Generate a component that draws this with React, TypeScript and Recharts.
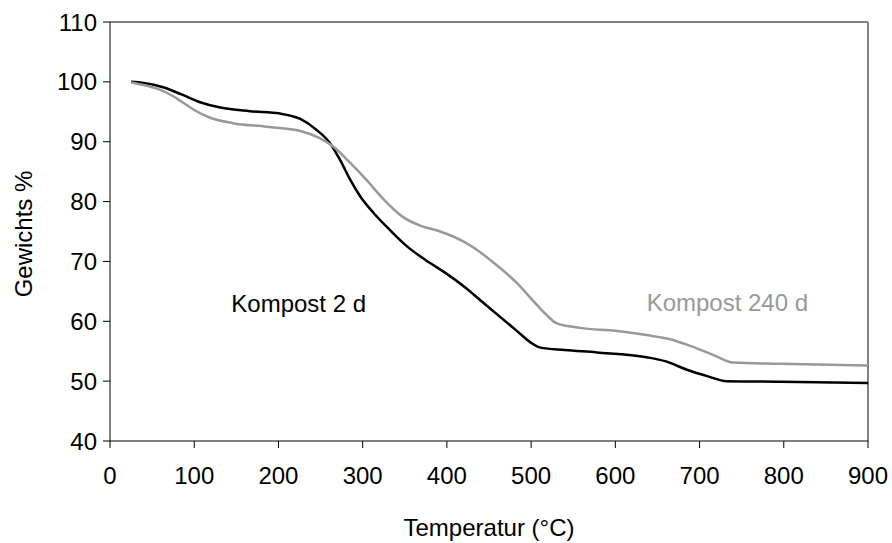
import { LineChart, Line, XAxis, YAxis, ReferenceLine, ReferenceDot, Label } from 'recharts';

// Temperatur (°C) / Gewichts % for the two compost samples
const temp2d = [25, 40, 63, 85, 107, 131, 166, 202, 226, 245, 261, 273, 285, 297, 313, 332, 352, 375, 396, 424, 439, 455, 483, 500, 511, 540, 578, 637, 660, 685, 710, 732, 796, 900];
const weight2d = [100.0, 99.8, 99.1, 97.9, 96.6, 95.7, 95.1, 94.7, 93.8, 92.0, 89.8, 87.0, 83.7, 80.9, 78.1, 75.3, 72.6, 70.2, 68.3, 65.4, 63.6, 61.7, 58.4, 56.4, 55.6, 55.2, 54.8, 54.0, 53.3, 51.9, 50.8, 50.0, 49.9, 49.7];

const temp240d = [25, 45, 59, 75, 87, 100, 119, 146, 186, 226, 249, 265, 285, 304, 324, 348, 370, 392, 420, 440, 451, 483, 500, 518, 530, 558, 600, 637, 665, 685, 716, 740, 796, 900];
const weight240d = [99.9, 99.3, 98.7, 97.6, 96.5, 95.3, 94.0, 93.1, 92.5, 91.8, 90.6, 89.2, 86.5, 83.7, 80.5, 77.4, 75.9, 75.0, 73.3, 71.5, 70.3, 66.4, 63.8, 61.1, 59.7, 58.9, 58.4, 57.7, 57.0, 56.1, 54.4, 53.1, 52.9, 52.6];

const xTicks = [0, 100, 200, 300, 400, 500, 600, 700, 800, 900];
const yTicks = [40, 50, 60, 70, 80, 90, 100, 110];

const series2d = temp2d.map((t, i) => ({ t, w: weight2d[i] }));
const series240d = temp240d.map((t, i) => ({ t, w: weight240d[i] }));

const FONT = '"Liberation Sans", Arial, sans-serif';
const FS = 24;

function App() {
    return (
        <div style={{ width: 892, height: 543, background: '#fff' }}>
            <style>{`body{margin:0}`}</style>
            <LineChart width={892} height={543} margin={{ top: 22, right: 24, bottom: 0, left: 0 }} style={{ fontFamily: FONT }}>
                <XAxis
                    type="number"
                    dataKey="t"
                    domain={[0, 900]}
                    ticks={xTicks}
                    allowDataOverflow
                    height={102}
                    tickSize={7}
                    tickMargin={19}
                    axisLine={{ stroke: '#000', strokeWidth: 1 }}
                    tickLine={{ stroke: '#000' }}
                    tick={{ fill: '#000', fontSize: FS }}
                >
                    <Label
                        content={() => (
                            <text x={489} y={536} textAnchor="middle" fontSize={FS} fill="#000" fontFamily={FONT}>
                                Temperatur (°C)
                            </text>
                        )}
                    />
                </XAxis>
                <YAxis
                    type="number"
                    dataKey="w"
                    domain={[40, 110]}
                    ticks={yTicks}
                    allowDataOverflow
                    width={110}
                    tickSize={7}
                    tickMargin={6}
                    axisLine={{ stroke: '#000', strokeWidth: 1 }}
                    tickLine={{ stroke: '#000' }}
                    tick={{ fill: '#000', fontSize: FS }}
                >
                    <Label
                        content={() => (
                            <text x={32} y={234} transform="rotate(-90 32 234)" textAnchor="middle" fontSize={FS} fill="#000" fontFamily={FONT}>
                                Gewichts %
                            </text>
                        )}
                    />
                </YAxis>

                {/* plot area frame: dark top edge, grey right edge */}
                <ReferenceLine y={110} stroke="#000" strokeWidth={1} />
                <ReferenceLine x={900} stroke="#808080" strokeWidth={2} />

                <Line data={series2d} dataKey="w" type="monotone" stroke="#000" strokeWidth={2.5} dot={false} isAnimationActive={false} />
                <Line data={series240d} dataKey="w" type="monotone" stroke="#999999" strokeWidth={2.5} dot={false} isAnimationActive={false} />

                <ReferenceDot x={224} y={63} r={0} stroke="none" fill="none" label={{ value: 'Kompost 2 d', position: 'center', fill: '#000', fontSize: FS }} />
                <ReferenceDot x={733} y={63.2} r={0} stroke="none" fill="none" label={{ value: 'Kompost 240 d', position: 'center', fill: '#999999', fontSize: FS }} />
            </LineChart>
        </div>
    );
}

export default App;
